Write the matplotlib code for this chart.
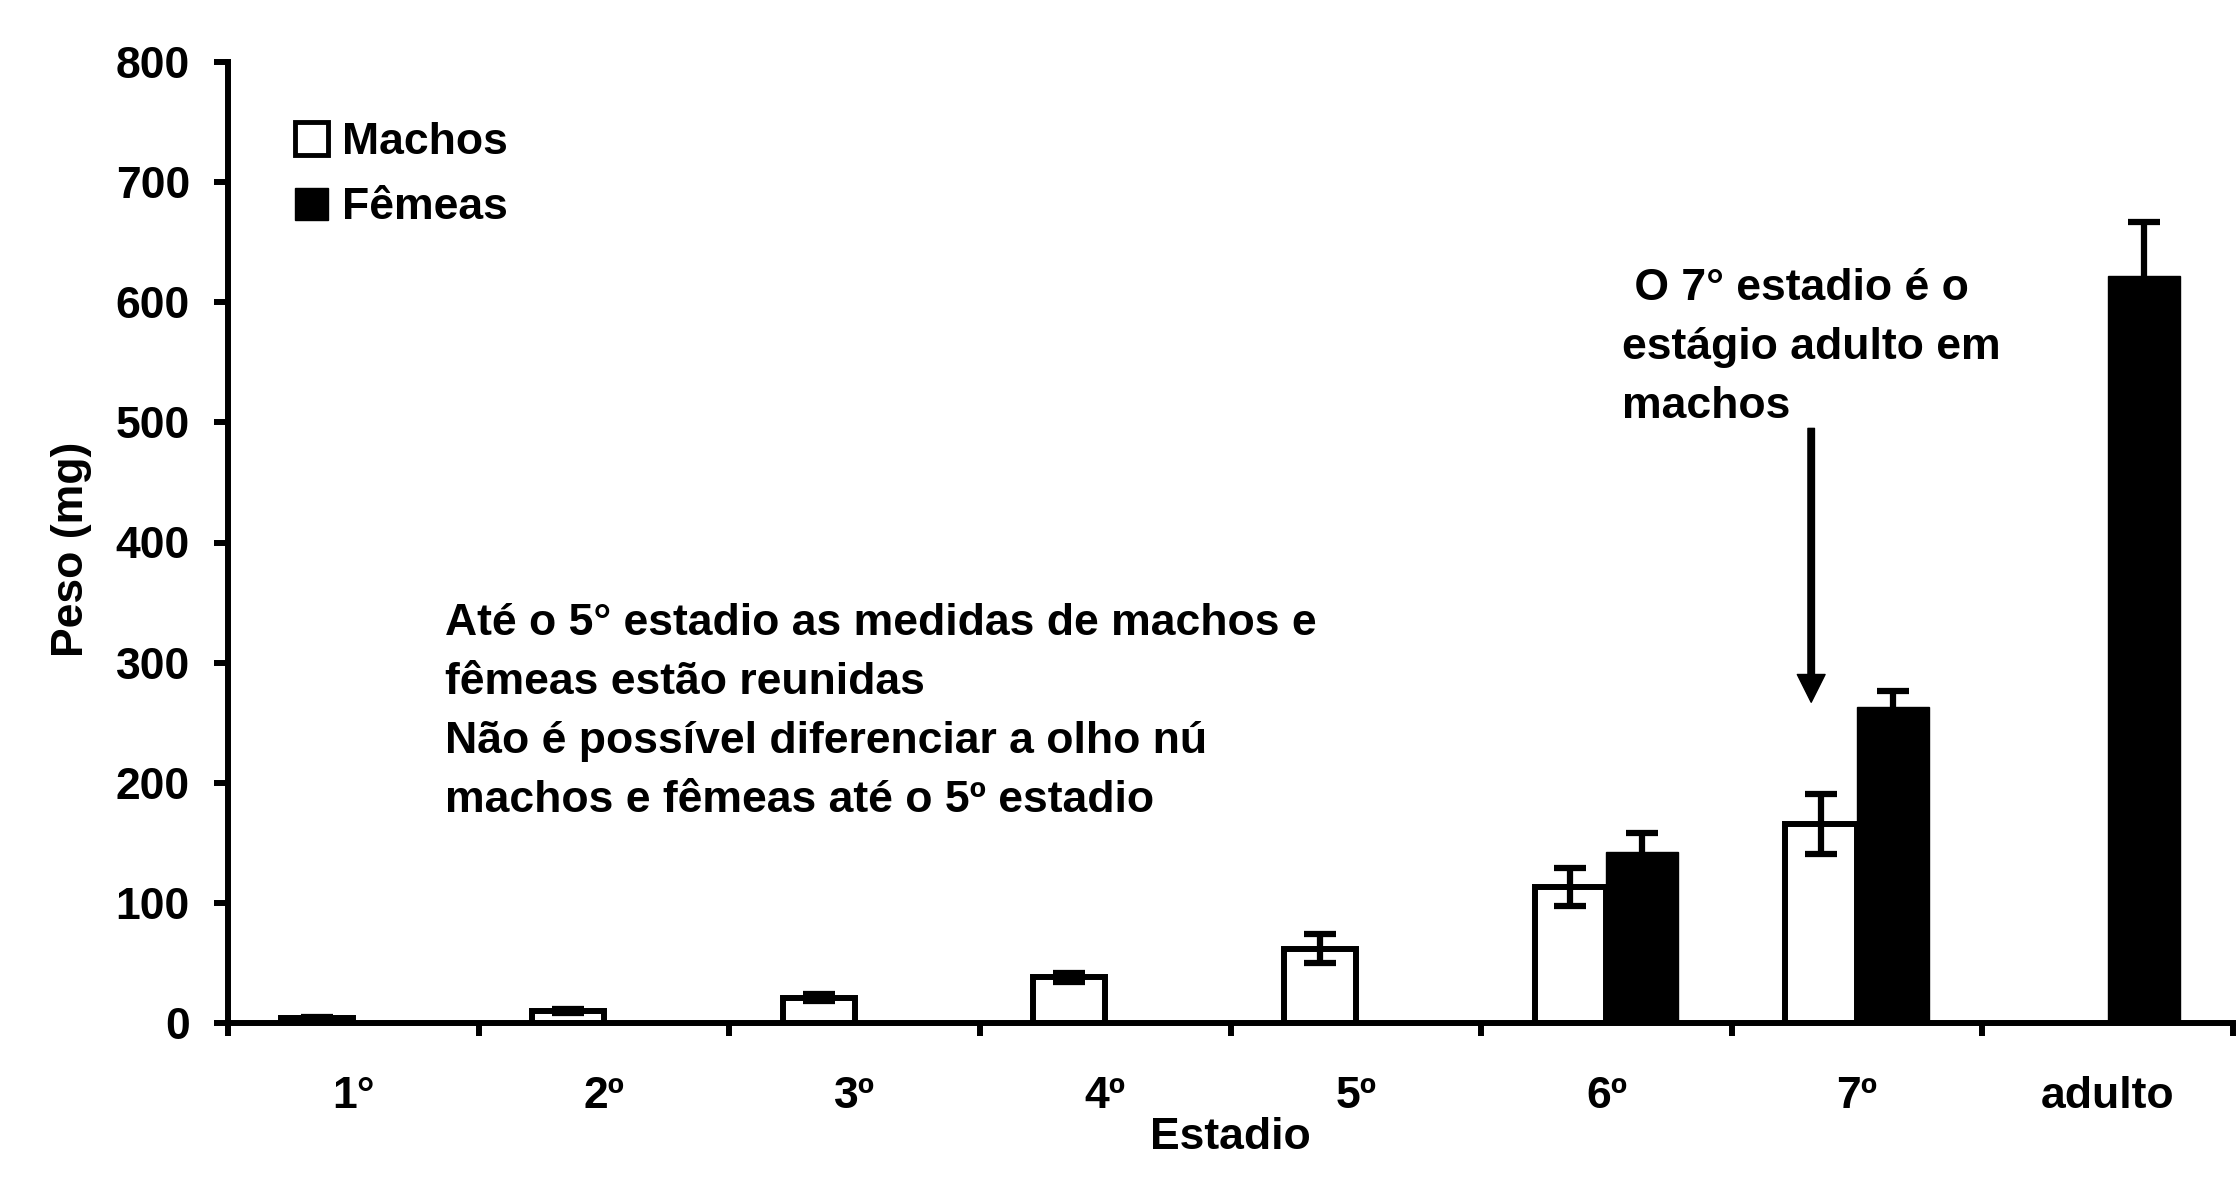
import numpy as np
import matplotlib
matplotlib.use('Agg')
import matplotlib.pyplot as plt
from matplotlib.patches import Patch

plt.rcParams['font.family'] = ['Liberation Sans', 'DejaVu Sans']
plt.rcParams['font.weight'] = 'bold'

# dados
estadios = ['1°', '2º', '3º', '4º', '5º', '6º', '7º', 'adulto']
machos = [4, 10, 21, 38, 62, 113, 166, np.nan]
machos_err = [1, 2, 3, 4, 12, 16, 25, 0]
femeas = [np.nan, np.nan, np.nan, np.nan, np.nan, 142, 263, 622]
femeas_err = [0, 0, 0, 0, 0, 16, 13, 45]

W, H = 2238, 1197
fig = plt.figure(figsize=(W / 100, H / 100), dpi=100)
ax = fig.add_axes([228 / W, 1 - 1023 / H, 2005 / W, 961 / H])

x = np.arange(len(estadios))
bw = 0.287
lw = 4.3

ax.bar(x - bw / 2, machos, bw, color='white', edgecolor='black', linewidth=lw, zorder=2)
ax.bar(x + bw / 2, femeas, bw, color='black', edgecolor='black', linewidth=1, zorder=2)
ax.errorbar(x - bw / 2, machos, yerr=machos_err, fmt='none', ecolor='black',
            elinewidth=4.5, capsize=11.5, capthick=4.5, zorder=3)
ax.errorbar(x + bw / 2, femeas, yerr=femeas_err, fmt='none', ecolor='black',
            elinewidth=4.5, capsize=11.5, capthick=4.5, zorder=3)

ax.set_xlim(-0.5, len(estadios) - 0.5)
ax.set_ylim(0, 800)
ax.set_yticks(np.arange(0, 801, 100))
ax.set_xticks(x)
ax.set_xticklabels(estadios)
ax.set_xticks(np.arange(-0.5, len(estadios)), minor=True)

for s in ['top', 'right']:
    ax.spines[s].set_visible(False)
for s in ['left', 'bottom']:
    ax.spines[s].set_linewidth(lw)

ax.tick_params(axis='x', which='major', length=0, pad=38, labelsize=32)
ax.tick_params(axis='x', which='minor', direction='out', length=9.4, width=lw)
ax.tick_params(axis='y', direction='out', length=10.4, width=lw, pad=17, labelsize=32)
for t in ax.get_xticklabels() + ax.get_yticklabels():
    t.set_fontweight('bold')

ax.set_xlabel('Estadio', fontsize=32, fontweight='bold', va='center')
ax.xaxis.set_label_coords(0.5, -0.119)
ax.set_ylabel('Peso (mg)', fontsize=32, fontweight='bold', va='center')
ax.yaxis.set_label_coords(-0.0783, 0.493)

handles = [Patch(facecolor='white', edgecolor='black', linewidth=3.5, label='Machos'),
           Patch(facecolor='black', edgecolor='black', label='Fêmeas')]
ax.legend(handles=handles, loc='upper left', bbox_to_anchor=(295 / W, 1 - 122 / H),
          bbox_transform=fig.transFigure, frameon=False,
          handlelength=0.75, handleheight=0.75, handletextpad=0.3,
          labelspacing=0.55, borderpad=0, borderaxespad=0,
          prop={'weight': 'bold', 'size': 32})

fig.text(445 / W, 1 - 603 / H,
         'Até o 5° estadio as medidas de machos e\n'
         'fêmeas estão reunidas\n'
         'Não é possível diferenciar a olho nú\n'
         'machos e fêmeas até o 5º estadio',
         fontsize=32, fontweight='bold', ha='left', va='top', linespacing=1.56)

fig.text(1622 / W, 1 - 268 / H,
         ' O 7° estadio é o\nestágio adulto em\nmachos',
         fontsize=32, fontweight='bold', ha='left', va='top', linespacing=1.56)

ax.annotate('', xy=(5.817, 267), xytext=(5.817, 495),
            arrowprops=dict(facecolor='black', edgecolor='black', width=4.7,
                            headwidth=20, headlength=20, shrink=0))

fig.savefig('out.png', dpi=100)
